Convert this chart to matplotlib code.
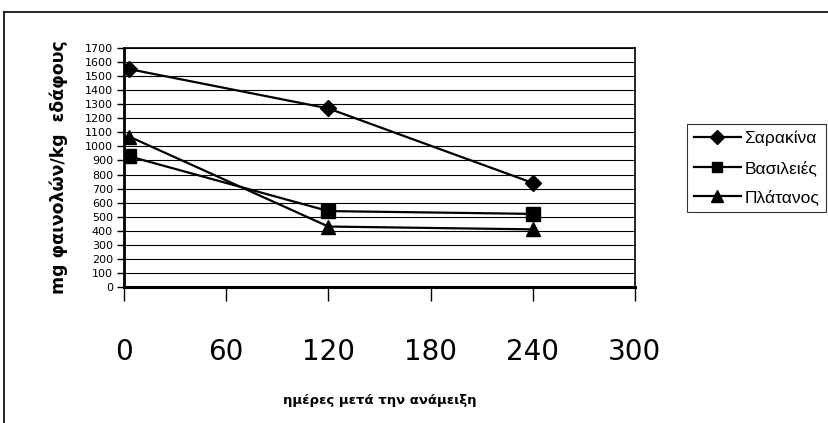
import matplotlib
matplotlib.use('Agg')
import matplotlib.pyplot as plt
from matplotlib.lines import Line2D

# data
days = [3, 120, 240]
sarakina = [1550, 1270, 740]
vasileies = [930, 540, 520]
platanos = [1070, 430, 410]
series_names = ['Σαρακίνα', 'Βασιλειές', 'Πλάτανος']
x_ticks = [0, 60, 120, 180, 240, 300]
y_ticks = list(range(0, 1800, 100))

W, H = 829, 423
fig = plt.figure(figsize=(W / 100, H / 100), dpi=100)
ax = fig.add_axes([124 / W, 1 - 287 / H, 511 / W, 239 / H])

ax.plot(days, sarakina, color='black', lw=1.6, marker='D', ms=8.5, label=series_names[0])
ax.plot(days, vasileies, color='black', lw=1.6, marker='s', ms=9.5, label=series_names[1])
ax.plot(days, platanos, color='black', lw=1.6, marker='^', ms=10, label=series_names[2])

ax.set_xlim(0, 300)
ax.set_ylim(0, 1700)
ax.set_xticks(x_ticks)
ax.set_yticks(y_ticks)
ax.yaxis.grid(True, color='black', lw=0.8)
ax.set_axisbelow(True)

for s in ax.spines.values():
    s.set_linewidth(1.2)
ax.spines['bottom'].set_linewidth(2.2)
ax.spines['left'].set_linewidth(2.0)

ax.tick_params(axis='x', direction='out', length=10, width=1, pad=27, labelsize=20)
ax.tick_params(axis='y', direction='out', length=5, width=1, pad=3, labelsize=8)

ax.set_ylabel('mg φαινολών/kg  εδάφους', fontsize=12.5, fontweight='bold', labelpad=12)
ax.set_xlabel('ημέρες μετά την ανάμειξη', fontsize=9.5, fontweight='bold', labelpad=20)

leg = ax.legend(loc='upper left', bbox_to_anchor=(687 / W, 1 - 124 / H),
                bbox_transform=fig.transFigure, borderaxespad=0,
                fancybox=False, frameon=True, handlelength=2.7, markerscale=0.8,
                prop={'family': 'Liberation Sans', 'size': 12.5},
                labelspacing=0.78, borderpad=0.4, handletextpad=0.2)
leg.get_frame().set_edgecolor('black')
leg.get_frame().set_linewidth(0.8)

# outer chart border (left and top visible)
fig.add_artist(Line2D([4 / W, 4 / W], [0, 1 - 12 / H], color='black', lw=1.2, transform=fig.transFigure))
fig.add_artist(Line2D([4 / W, 1], [1 - 12 / H, 1 - 12 / H], color='black', lw=1.2, transform=fig.transFigure))

fig.savefig('out.png', dpi=100)
